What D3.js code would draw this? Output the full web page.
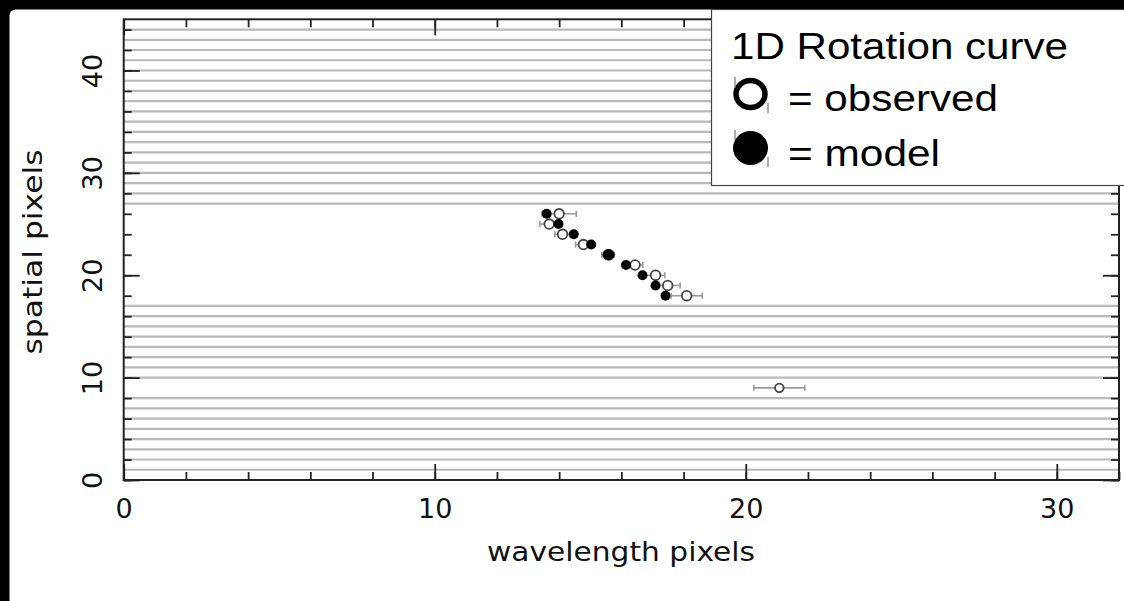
<!DOCTYPE html>
<html>
<head>
<meta charset="utf-8">
<script src="https://cdn.jsdelivr.net/npm/d3@7"></script>
<style>
  html, body { margin: 0; padding: 0; background: #000; }
  svg { display: block; }
</style>
</head>
<body>
<svg id="chart" width="1124" height="601"></svg>
<script>
// ---- data ----
const obsRows   = [26, 25, 24, 23, 22, 21, 20, 19, 18, 9];
const obsWave   = [14.0, 13.68, 14.11, 14.78, 15.57, 16.44, 17.1, 17.49, 18.1, 21.08];
const obsErr    = [0.55, 0.3, 0.25, 0.25, 0.2, 0.25, 0.3, 0.4, 0.5, 0.82];
const modelRows = [26, 25, 24, 23, 22, 21, 20, 19, 18];
const modelWave = [13.6, 13.98, 14.47, 15.03, 15.6, 16.15, 16.68, 17.1, 17.42];
const xMajorTicks = [0, 10, 20, 30];
const yMajorTicks = [0, 10, 20, 30, 40];
const legendTitle = "1D Rotation curve";
const legendItems = ["= observed", "= model"];
const xTitle = "wavelength pixels";
const yTitle = "spatial pixels";

// ---- layout ----
const svg = d3.select("#chart");
const x = d3.scaleLinear().domain([0, 32]).range([123.7, 1119]);
const y = d3.scaleLinear().domain([0, 45]).range([480, 19.3]);
const [x0, x1] = x.range();
const [y0, y1] = y.range();

// background: black with white panel
svg.append("rect").attr("x", 0).attr("y", 0).attr("width", 1124).attr("height", 601).attr("fill", "#000");
svg.append("rect").attr("x", 9.5).attr("y", 9.5).attr("width", 1130).attr("height", 610)
  .attr("rx", 6).attr("fill", "#fff");

// grey rows (rows without data)
const minorX = d3.range(0, 33, 2);
const minorY = d3.range(0, 46, 2);
const emptyRows = d3.range(1, 45).filter(r => !obsRows.includes(r));
svg.append("g").selectAll("line").data(emptyRows).join("line")
  .attr("x1", x0).attr("x2", x1)
  .attr("y1", d => y(d)).attr("y2", d => y(d))
  .attr("stroke", "#b9b9b9").attr("stroke-width", 2.2);

// axes
const axisColor = "#222";
function styleAxis(g) {
  g.select(".domain").remove();
  g.selectAll(".tick line").attr("stroke", axisColor).attr("stroke-width", 1.8);
}
// bottom
svg.append("g").attr("transform", `translate(0,${y0})`)
  .call(d3.axisBottom(x).tickValues(minorX).tickSize(-8).tickFormat(""))
  .call(styleAxis);
const bottomMajor = svg.append("g").attr("transform", `translate(0,${y0})`)
  .call(d3.axisBottom(x).tickValues(xMajorTicks).tickSize(-16).tickPadding(0).tickFormat(d3.format("d")))
  .call(styleAxis);
bottomMajor.selectAll(".tick text")
  .attr("y", 38).attr("dy", 0)
  .attr("font-family", "DejaVu Sans").attr("font-size", 27).attr("fill", "#111");
// top
svg.append("g").attr("transform", `translate(0,${y1})`)
  .call(d3.axisTop(x).tickValues(minorX).tickSize(-8).tickFormat(""))
  .call(styleAxis);
svg.append("g").attr("transform", `translate(0,${y1})`)
  .call(d3.axisTop(x).tickValues(xMajorTicks).tickSize(-16).tickFormat(""))
  .call(styleAxis);
// left
svg.append("g").attr("transform", `translate(${x0},0)`)
  .call(d3.axisLeft(y).tickValues(minorY).tickSize(-8).tickFormat(""))
  .call(styleAxis);
const leftMajor = svg.append("g").attr("transform", `translate(${x0},0)`)
  .call(d3.axisLeft(y).tickValues(yMajorTicks).tickSize(-16).tickFormat(d3.format("d")))
  .call(styleAxis);
leftMajor.selectAll(".tick text")
  .attr("x", null).attr("dy", null)
  .attr("transform", "translate(-22,0) rotate(-90)")
  .attr("text-anchor", "middle")
  .attr("font-family", "DejaVu Sans").attr("font-size", 27).attr("fill", "#111");
// right
svg.append("g").attr("transform", `translate(${x1},0)`)
  .call(d3.axisRight(y).tickValues(minorY).tickSize(-8).tickFormat(""))
  .call(styleAxis);
svg.append("g").attr("transform", `translate(${x1},0)`)
  .call(d3.axisRight(y).tickValues(yMajorTicks).tickSize(-16).tickFormat(""))
  .call(styleAxis);

// frame
svg.append("rect").attr("x", x0).attr("y", y1).attr("width", x1 - x0).attr("height", y0 - y1)
  .attr("fill", "none").attr("stroke", axisColor).attr("stroke-width", 2);

// axis titles
svg.append("text").attr("x", (x(0) + x(32)) / 2 + 0).attr("y", 561)
  .attr("x", 621).attr("text-anchor", "middle")
  .attr("font-family", "DejaVu Sans").attr("font-size", 27).attr("fill", "#111")
  .attr("textLength", 268).attr("lengthAdjust", "spacingAndGlyphs")
  .text(xTitle);
svg.append("text")
  .attr("transform", "translate(42,252) rotate(-90)")
  .attr("text-anchor", "middle")
  .attr("font-family", "DejaVu Sans").attr("font-size", 27).attr("fill", "#111")
  .attr("textLength", 205).attr("lengthAdjust", "spacingAndGlyphs")
  .text(yTitle);

// observed: error bars + open circles
const obs = obsRows.map((r, i) => ({ r, w: obsWave[i], e: obsErr[i] }));
const model = modelRows.map((r, i) => ({ r, w: modelWave[i] }));
const gObs = svg.append("g");
gObs.selectAll("line.eb").data(obs).join("line").attr("class", "eb")
  .attr("x1", d => x(d.w - d.e)).attr("x2", d => x(d.w + d.e))
  .attr("y1", d => y(d.r)).attr("y2", d => y(d.r))
  .attr("stroke", "#9a9a9a").attr("stroke-width", 1.6);
gObs.selectAll("line.capl").data(obs).join("line").attr("class", "capl")
  .attr("x1", d => x(d.w - d.e)).attr("x2", d => x(d.w - d.e))
  .attr("y1", d => y(d.r) - 3).attr("y2", d => y(d.r) + 3)
  .attr("stroke", "#9a9a9a").attr("stroke-width", 1.6);
gObs.selectAll("line.capr").data(obs).join("line").attr("class", "capr")
  .attr("x1", d => x(d.w + d.e)).attr("x2", d => x(d.w + d.e))
  .attr("y1", d => y(d.r) - 3).attr("y2", d => y(d.r) + 3)
  .attr("stroke", "#9a9a9a").attr("stroke-width", 1.6);
gObs.selectAll("circle").data(obs).join("circle")
  .attr("cx", d => x(d.w)).attr("cy", d => y(d.r))
  .attr("r", d => d.r === 9 ? 4.3 : 4.8)
  .attr("fill", "#fff").attr("stroke", "#444").attr("stroke-width", 1.8);

// model: filled circles
svg.append("g").selectAll("circle").data(model).join("circle")
  .attr("cx", d => x(d.w)).attr("cy", d => y(d.r))
  .attr("r", d => d.r === 22 ? 5.8 : 5)
  .attr("fill", "#000");

// legend
const lg = svg.append("g");
lg.append("rect").attr("x", 711.5).attr("y", 9.5).attr("width", 430).attr("height", 176)
  .attr("fill", "#fff").attr("stroke", "#444").attr("stroke-width", 1.2);
lg.append("text").attr("x", 731).attr("y", 59)
  .attr("font-family", "Liberation Sans, Arial, sans-serif").attr("font-size", 36).attr("fill", "#000")
  .attr("textLength", 337).attr("lengthAdjust", "spacingAndGlyphs")
  .text(legendTitle);
const itemY = [111, 166];
const itemLen = [210, 152];
legendItems.forEach((t, i) => {
  lg.append("text").attr("x", 788).attr("y", itemY[i])
    .attr("font-family", "Liberation Sans, Arial, sans-serif").attr("font-size", 36).attr("fill", "#000")
    .attr("textLength", itemLen[i]).attr("lengthAdjust", "spacingAndGlyphs")
    .text(t);
});
// legend symbols
lg.append("ellipse").attr("cx", 750.5).attr("cy", 94).attr("rx", 14.5).attr("ry", 13.5)
  .attr("fill", "none").attr("stroke", "#000").attr("stroke-width", 5.5);
lg.append("ellipse").attr("cx", 750.5).attr("cy", 148).attr("rx", 17.5).attr("ry", 17)
  .attr("fill", "#000");
// small cap residues beside legend symbols
[[735, 77, 88], [768, 103, 113], [735, 130, 140], [768, 157, 167]].forEach(([cx, ya, yb]) => {
  lg.append("line").attr("x1", cx).attr("x2", cx).attr("y1", ya).attr("y2", yb)
    .attr("stroke", "#777").attr("stroke-width", 1.2);
});
</script>
</body>
</html>
